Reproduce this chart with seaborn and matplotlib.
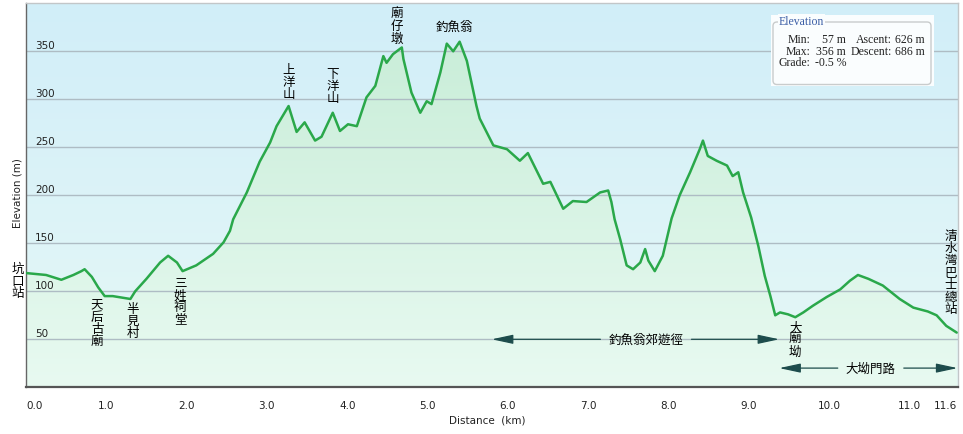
import numpy as np
import matplotlib
matplotlib.use('Agg')
import matplotlib.pyplot as plt
import matplotlib.transforms as mtrans
from matplotlib.patches import Polygon, FancyBboxPatch, Rectangle
from matplotlib.colors import LinearSegmentedColormap
import seaborn as sns

# ---------------- data ----------------
dist_km = [0.00, 0.25, 0.44, 0.59, 0.69, 0.73, 0.82, 0.90, 0.98, 1.08, 1.30, 1.36,
           1.50, 1.67, 1.77, 1.88, 1.95, 2.12, 2.33, 2.46, 2.54, 2.58, 2.75, 2.91,
           3.04, 3.12, 3.27, 3.37, 3.47, 3.60, 3.68, 3.82, 3.91, 4.01, 4.12, 4.24,
           4.35, 4.45, 4.49, 4.57, 4.68, 4.70, 4.80, 4.91, 4.99, 5.05, 5.16, 5.24,
           5.32, 5.40, 5.49, 5.61, 5.65, 5.82, 5.99, 6.15, 6.25, 6.44, 6.53, 6.69,
           6.81, 6.98, 7.15, 7.25, 7.29, 7.33, 7.40, 7.48, 7.56, 7.65, 7.71, 7.75,
           7.83, 7.93, 8.04, 8.14, 8.27, 8.39, 8.43, 8.49, 8.60, 8.73, 8.80, 8.87,
           8.93, 9.03, 9.12, 9.20, 9.27, 9.33, 9.39, 9.49, 9.58, 9.68, 9.80, 9.97,
           10.14, 10.26, 10.36, 10.49, 10.67, 10.88, 11.05, 11.23, 11.34, 11.46, 11.59]
elev_m = [119, 117, 112, 117, 121, 123, 115, 104, 95, 95, 92, 100,
          113, 130, 137, 130, 121, 127, 139, 151, 163, 175, 203, 235,
          255, 272, 293, 266, 276, 257, 261, 286, 267, 274, 272, 302,
          314, 345, 338, 347, 354, 342, 307, 286, 298, 295, 328, 358,
          350, 360, 340, 293, 280, 252, 248, 236, 244, 212, 214, 186,
          194, 193, 203, 205, 193, 175, 154, 127, 123, 130, 144, 132,
          121, 137, 176, 200, 224, 248, 257, 241, 236, 231, 220, 224,
          203, 177, 147, 116, 95, 75, 78, 76, 73, 78, 85, 94,
          102, 111, 117, 113, 106, 92, 83, 79, 75, 64, 57]

x_ticks = [0, 1, 2, 3, 4, 5, 6, 7, 8, 9, 10, 11, 11.6]
x_tick_labels = ['0.0', '1.0', '2.0', '3.0', '4.0', '5.0', '6.0', '7.0', '8.0',
                 '9.0', '10.0', '11.0', '11.6']
y_ticks = [50, 100, 150, 200, 250, 300, 350]

place_names = ['坑口站', '天后古廟', '半見村', '三姓祠堂', '上洋山', '下洋山',
               '廟仔墩', '釣魚翁', '大廟坳', '清水灣巴士總站']
place_x = [-0.10, 0.885, 1.33, 1.92, 3.27, 3.82, 4.62, 5.34, 9.58, 11.52]
place_y = [131, 93, 89, 116, 299, 295, 357, 369, 70, 165]

route_names = ['釣魚翁郊遊徑', '大坳門路']
route_start = [5.80, 9.38]
route_end = [9.38, 11.60]
route_label_x = [7.72, 10.52]
route_y = [50, 20]

stat_min, stat_max = 57, 356
stat_ascent, stat_descent = 626, 686
stat_grade = -0.5

# ---------------- style ----------------
sns.set_style('white')
plt.rcParams['font.family'] = ['DejaVu Sans', 'Noto Sans CJK TC']
CJK = ['Noto Sans CJK TC', 'DejaVu Sans']
SERIF = ['Liberation Serif', 'DejaVu Serif']

W, H = 963, 435
fig = plt.figure(figsize=(W / 100, H / 100), dpi=100)
fig.patch.set_facecolor('white')
L, R, T, B = 26, 957.5, 4.3, 388.3
ax = fig.add_axes([L / W, 1 - B / H, (R - L) / W, (B - T) / H])

XMAX, YMAX = 11.6, 400
grad = np.linspace(0, 1, 256).reshape(-1, 1)
bg_cmap = LinearSegmentedColormap.from_list('bg', ['#e6f8f6', '#d1eef9'])
fill_cmap = LinearSegmentedColormap.from_list('fill', ['#e8faf1', '#c6ecd6'])
ax.imshow(grad, extent=[0, XMAX, 0, YMAX], origin='lower', aspect='auto',
          cmap=bg_cmap, zorder=0, interpolation='bilinear')
im_fill = ax.imshow(grad, extent=[0, XMAX, 0, YMAX], origin='lower', aspect='auto',
                    cmap=fill_cmap, zorder=0.2, interpolation='bilinear')
verts = [(dist_km[0], 0)] + list(zip(dist_km, elev_m)) + [(dist_km[-1], 0)]
poly = Polygon(verts, closed=True, facecolor='none', edgecolor='none',
               transform=ax.transData)
ax.add_patch(poly)
im_fill.set_clip_path(poly)

sns.lineplot(x=dist_km, y=elev_m, ax=ax, color='#2aa84a', lw=1.8, zorder=3,
             estimator=None, sort=False)

ax.set_xlim(0, XMAX)
ax.set_ylim(0, YMAX)
ax.set_axisbelow(True)
ax.yaxis.grid(True, color='#aebcc4', lw=1)
ax.xaxis.grid(False)
ax.set_yticks(y_ticks)
ax.tick_params(axis='y', length=0, labelleft=False)
ax.set_xticks(x_ticks, x_tick_labels)
ax.tick_params(axis='x', direction='out', length=5, width=1, color='#555555',
               pad=4, labelsize=7.5, labelcolor='#222222')
xtl = ax.get_xticklabels()
xtl[0].set_ha('left')
xtl[-1].set_ha('right')
ax.set_xlabel('')
ax.set_ylabel('')

for s in ['top', 'right']:
    ax.spines[s].set_color('#c2c6c8')
    ax.spines[s].set_linewidth(1)
ax.spines['bottom'].set_color('#555555')
ax.spines['bottom'].set_linewidth(1.6)
ax.spines['left'].set_color('#666666')
ax.spines['left'].set_linewidth(1.0)

ytrans = mtrans.blended_transform_factory(ax.transAxes, ax.transData)
ytrans = ytrans + mtrans.ScaledTranslation(0, 3 / 100, fig.dpi_scale_trans)
for v in y_ticks:
    ax.text(0.0097, v, str(v), transform=ytrans, ha='left', va='baseline',
            fontsize=7.5, color='#222222', zorder=4)

fig.text(487 / W, 1 - 421 / H, 'Distance  (km)', ha='center', va='center',
         fontsize=7.5, color='#222222')
fig.text(17 / W, 1 - 193 / H, 'Elevation (m)', ha='center', va='center',
         rotation=90, fontsize=7.5, color='#222222')

# place names
for name, px, py in zip(place_names, place_x, place_y):
    if name == '釣魚翁':
        ax.text(px, py, name, ha='center', va='bottom', fontsize=9,
                family=CJK, color='black', zorder=5)
    else:
        va = 'bottom' if name in ('上洋山', '下洋山', '廟仔墩') else 'top'
        ax.text(px, py, '\n'.join(name), ha='center', va=va, fontsize=9,
                family=CJK, linespacing=0.92, color='black', zorder=5,
                clip_on=False)

# routes
fig.canvas.draw()
renderer = fig.canvas.get_renderer()
inv = ax.transData.inverted()
for name, x0, x1, lx, ry in zip(route_names, route_start, route_end,
                                route_label_x, route_y):
    t = ax.text(lx, ry, name, ha='center', va='center', fontsize=9,
                family=CJK, color='black', zorder=5)
    bb = t.get_window_extent(renderer)
    left_d = inv.transform((bb.x0 - 8, 0))[0]
    right_d = inv.transform((bb.x1 + 8, 0))[0]
    props = dict(arrowstyle='-|>,head_length=1.3,head_width=0.28',
                 color='#1d4c4c', lw=0.9, mutation_scale=10,
                 shrinkA=0, shrinkB=0)
    ax.annotate('', xy=(x0, ry), xytext=(left_d, ry), arrowprops=props,
                zorder=5, annotation_clip=False)
    ax.annotate('', xy=(x1, ry), xytext=(right_d, ry), arrowprops=props,
                zorder=5, annotation_clip=False)

# stats box (pixel coordinates)
def pix(px, py):
    return (px, H - py)

ident = mtrans.IdentityTransform()
outer = Rectangle(pix(771, 87), 934 - 771, 87 - 16, transform=ident,
                  facecolor='#fafdfe', edgecolor='none', zorder=10)
fig.patches.append(outer)
inner = FancyBboxPatch(pix(773, 85.5), 931 - 773, 85.5 - 23,
                       boxstyle='round,pad=0,rounding_size=4', transform=ident,
                       facecolor='none', edgecolor='#c9cccc', lw=1, zorder=11)
fig.patches.append(inner)

def ptext(px, py, s, ha='left', **kw):
    fig.text(px / W, 1 - py / H, s, ha=ha, va='center', family=SERIF,
             fontsize=8.5, zorder=12, **kw)

ptext(779, 22, 'Elevation', color='#3b5ea6',
      bbox=dict(facecolor='#fafdfe', edgecolor='none', pad=0.5))
rows = [
    ('Min:', f'{stat_min} m', 'Ascent:', f'{stat_ascent} m'),
    ('Max:', f'{stat_max} m', 'Descent:', f'{stat_descent} m'),
    ('Grade:', f'{stat_grade} %', None, None),
]
for (a, b, c, d), py in zip(rows, [40, 52, 63]):
    ptext(810, py, a, ha='right', color='#222222')
    ptext(846, py, b, ha='right', color='#222222')
    if c:
        ptext(892, py, c, ha='right', color='#222222')
        ptext(925, py, d, ha='right', color='#222222')

fig.savefig('out.png', dpi=100)
